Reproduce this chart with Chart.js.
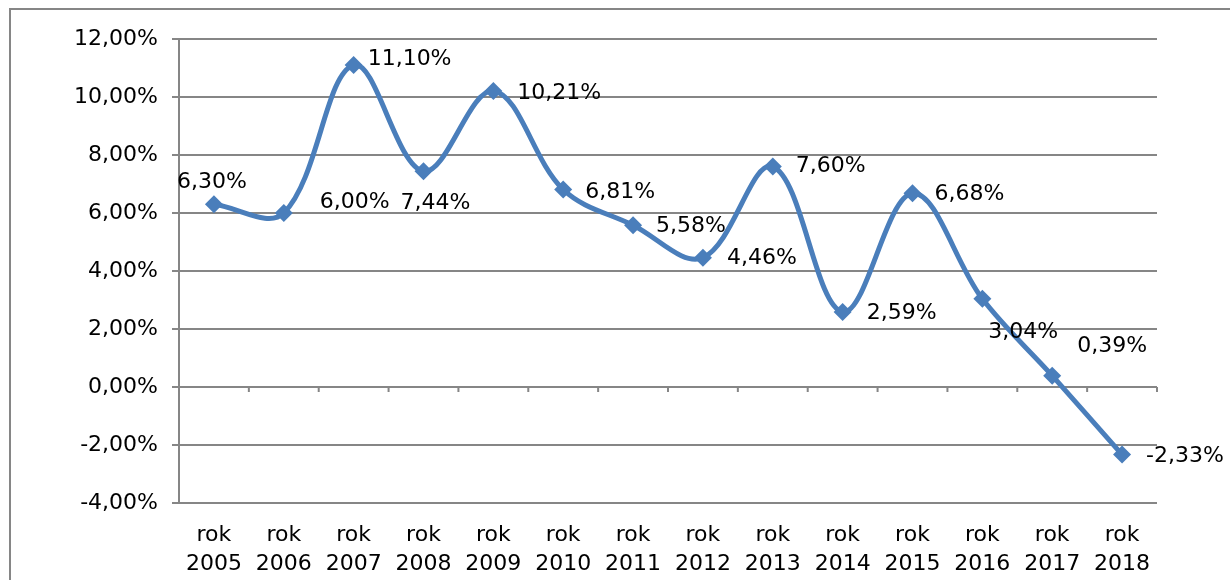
<!DOCTYPE html>
<html>
<head>
<meta charset="utf-8">
<script src="https://cdn.jsdelivr.net/npm/chart.js@4/dist/chart.umd.min.js"></script>
<style>
  body { margin: 0; background: #fff; }
  #wrap { width: 1230px; height: 580px; position: relative; }
</style>
</head>
<body>
<div id="wrap"><canvas id="chart"></canvas></div>
<script>
// Dane z wykresu
const years = ['2005', '2006', '2007', '2008', '2009', '2010', '2011', '2012', '2013', '2014', '2015', '2016', '2017', '2018'];
const values = [6.30, 6.00, 11.10, 7.44, 10.21, 6.81, 5.58, 4.46, 7.60, 2.59, 6.68, 3.04, 0.39, -2.33];
const yTicks = [-4, -2, 0, 2, 4, 6, 8, 10, 12];

const categories = years.map(y => ['rok', y]);
const fmt = v => v.toFixed(2).replace('.', ',') + '%';

const FONT = 'DejaVu Sans';
const FSIZE = 22;
const BLUE = '#4A7EBB';
const GRID = '#868686';

// przesunięcia etykiet danych względem punktu (lewa krawędź tekstu, środek)
const labelShift = [[-37, -22], [36, -11], [14, -6], [-23, 32], [24, 2], [22, 3], [23, 1],
                    [24, 1], [23, 0], [24, 1], [22, 1], [6, 33], [25, -29], [24, 2]];

const framePlugin = {
    id: 'frame',
    beforeDraw(chart) {
        const ctx = chart.ctx;
        ctx.save();
        ctx.strokeStyle = GRID;
        ctx.lineWidth = 2;
        ctx.beginPath();
        ctx.moveTo(10, chart.height);
        ctx.lineTo(10, 9);
        ctx.lineTo(chart.width, 9);
        ctx.stroke();
        ctx.restore();
    }
};

// znaczniki osi kategorii na linii 0%
const zeroTicks = {
    id: 'zeroTicks',
    beforeDatasetsDraw(chart) {
        const ctx = chart.ctx;
        const xs = chart.scales.x;
        const y0 = chart.scales.y.getPixelForValue(0);
        ctx.save();
        ctx.strokeStyle = GRID;
        ctx.lineWidth = 2;
        ctx.beginPath();
        for (let i = 1; i <= years.length; i++) {
            const x = xs.getPixelForValue(i - 0.5);
            ctx.moveTo(x, y0);
            ctx.lineTo(x, y0 + 5);
        }
        ctx.stroke();
        ctx.restore();
    }
};

const dataLabels = {
    id: 'dataLabels',
    afterDatasetsDraw(chart) {
        const ctx = chart.ctx;
        const meta = chart.getDatasetMeta(0);
        ctx.save();
        ctx.font = FSIZE + 'px "' + FONT + '"';
        ctx.fillStyle = '#000';
        ctx.textAlign = 'left';
        ctx.textBaseline = 'middle';
        meta.data.forEach((pt, i) => {
            const s = labelShift[i];
            ctx.fillText(fmt(values[i]), pt.x + s[0], pt.y + s[1]);
        });
        ctx.restore();
    }
};

new Chart(document.getElementById('chart'), {
    type: 'line',
    data: {
        labels: categories,
        datasets: [{
            data: values,
            borderColor: BLUE,
            backgroundColor: BLUE,
            borderWidth: 5,
            tension: 0.36,
            fill: false,
            pointStyle: 'rectRot',
            pointRadius: 9,
            pointHoverRadius: 9,
            pointBorderWidth: 0
        }]
    },
    options: {
        responsive: true,
        maintainAspectRatio: false,
        devicePixelRatio: 1,
        animation: false,
        layout: { padding: { left: 0, top: 39, right: 73, bottom: 0 } },
        plugins: {
            legend: { display: false },
            tooltip: { enabled: false }
        },
        scales: {
            x: {
                offset: true,
                grid: { display: false, offset: true },
                border: { display: false },
                ticks: {
                    color: '#000',
                    font: { family: FONT, size: FSIZE, lineHeight: 1.3 },
                    padding: 10,
                    maxRotation: 0,
                    autoSkip: false
                },
                afterFit: s => { s.height = 77; }
            },
            y: {
                min: -4,
                max: 12,
                afterBuildTicks: s => { s.ticks = yTicks.map(v => ({ value: v })); },
                grid: { color: GRID, lineWidth: 2, tickLength: 7 },
                border: { color: GRID, width: 2 },
                ticks: {
                    color: '#000',
                    font: { family: FONT, size: FSIZE },
                    padding: 14,
                    callback: v => fmt(v)
                },
                afterFit: s => { s.width = 179; }
            }
        }
    },
    plugins: [framePlugin, zeroTicks, dataLabels]
});
</script>
</body>
</html>
